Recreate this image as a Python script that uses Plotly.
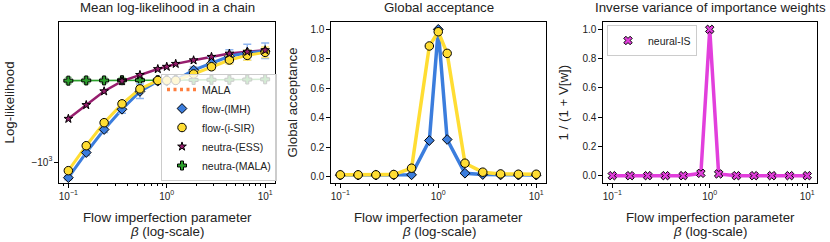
import numpy as np
import plotly.graph_objects as go

# ---------------- data ----------------
beta = [0.1, 0.152, 0.231, 0.351, 0.534, 0.811, 1.0, 1.233, 1.874, 2.848, 4.329, 6.579, 10.0]

mala_ll = -390
imh_ll = [-1198, -897, -688, -545, -444, -394, -394, -389, -347, -321, -296, -284, -279]
imh_err = [28, 31, 24, 26, 37, 14, 14, 14, 12, 22, 21, 26, 25]
isir_ll = [-1105, -829, -636, -512, -431, -391, -391, -391, -363, -334, -309, -293, -283]
isir_err = [25, 19, 15, 18, 15, 9, 9, 9, 13, 12, 15, 17, 17]
ess_ll = [-608, -519, -443, -394, -367, -343, -334, -323, -310, -298, -287, -281, -276]
ess_err = [8, 7, 6, 5, 5, 4, 4, 4, 4, 4, 4, 4, 4]
nmala_ll = [-392, -391, -391, -390, -390, -390, -390, -389, -389, -388, -388, -387, -386]
nmala_err = [14, 14, 13, 12, 10, 8, 8, 8, 7, 7, 6, 6, 6]

imh_acc = [0.01, 0.01, 0.01, 0.011, 0.012, 0.245, 1.0, 0.252, 0.023, 0.014, 0.011, 0.01, 0.01]
isir_acc = [0.012, 0.012, 0.012, 0.014, 0.057, 0.887, 0.984, 0.837, 0.091, 0.03, 0.018, 0.016, 0.016]
is_invvar = [0, 0, 0, 0, 0, 0.016, 1.0, 0.012, 0, 0, 0, 0, 0]

x_ticks = [0.1, 1.0, 10.0]
x_ticktext = ["10<sup>\u22121</sup>", "10<sup>0</sup>", "10<sup>1</sup>"]
titles = ["Mean log-likelihood in a chain", "Global acceptance", "Inverse variance of importance weights"]
ylabels = ["Log-likelihood", "Global acceptance", "1 / (1 + V[w])"]

# ---------------- style ----------------
W, H = 830, 242
FONT = "Liberation Sans, Arial, sans-serif"
TXT = "#222222"
BLUE, BLUE_E = "#3b7ddd", "#8fb5ef"
YEL, YEL_E = "#ffdd33", "#ffe77a"
PUR = "#961d6d"
GRN, GRN_E = "#2ca02c", "#93d493"
ORA = "#ff7f3f"
PINK = "#e23fdc"
GREY = "#8a8a8a"
FS = 13.3

def px_x(p):
    return p / W

def px_y(p):
    return (H - p) / H

xdom = [[px_x(59), px_x(275)], [px_x(331), px_x(546)], [px_x(603), px_x(817)]]
ydom = [px_y(183), px_y(22)]

fig = go.Figure()
neg = lambda a: [-v for v in a]

# ---- panel 1 ----
mk_line = dict(color="black", width=1)
fig.add_trace(go.Scatter(x=[None], y=[None], mode="lines", name="MALA",
                         line=dict(color=ORA, width=3.5, dash="3px,3.5px"),
                         legendrank=1, xaxis="x", yaxis="y"))
for yv, col, w in [(nmala_ll, GRN, 1.6), (ess_ll, PUR, 2.5), (imh_ll, BLUE, 3), (isir_ll, YEL, 3)]:
    fig.add_trace(go.Scatter(x=beta, y=neg(yv), mode="lines", line=dict(color=col, width=w),
                             showlegend=False, hoverinfo="skip", xaxis="x", yaxis="y"))
fig.add_trace(go.Scatter(x=beta, y=neg(nmala_ll), mode="markers", name="neutra-(MALA)",
                         marker=dict(symbol="cross", size=7.5, color=GRN, line=mk_line),
                         error_y=dict(type="data", array=nmala_err, color=GRN_E, thickness=1.5, width=3.5),
                         legendrank=5, xaxis="x", yaxis="y"))
fig.add_trace(go.Scatter(x=beta, y=neg(imh_ll), mode="markers", name="flow-(IMH)",
                         marker=dict(symbol="diamond", size=7.5, color=BLUE, line=mk_line),
                         error_y=dict(type="data", array=imh_err, color=BLUE_E, thickness=1.5, width=4),
                         legendrank=2, xaxis="x", yaxis="y"))
fig.add_trace(go.Scatter(x=beta, y=neg(isir_ll), mode="markers", name="flow-(i-SIR)",
                         marker=dict(symbol="circle", size=8.5, color=YEL, line=mk_line),
                         error_y=dict(type="data", array=isir_err, color=YEL_E, thickness=1.5, width=4),
                         legendrank=3, xaxis="x", yaxis="y"))
fig.add_trace(go.Scatter(x=beta, y=neg(ess_ll), mode="markers", name="neutra-(ESS)",
                         marker=dict(symbol="star", size=6.5, color=PUR, line=mk_line),
                         error_y=dict(type="data", array=ess_err, color=PUR, thickness=1, width=2),
                         legendrank=4, xaxis="x", yaxis="y"))

# ---- panel 2 ----
fig.add_trace(go.Scatter(x=beta, y=imh_acc, mode="lines", line=dict(color=BLUE, width=3.5),
                         showlegend=False, xaxis="x2", yaxis="y2"))
fig.add_trace(go.Scatter(x=beta, y=isir_acc, mode="lines", line=dict(color=YEL, width=3.5),
                         showlegend=False, xaxis="x2", yaxis="y2"))
fig.add_trace(go.Scatter(x=beta, y=imh_acc, mode="markers", showlegend=False,
                         marker=dict(symbol="diamond", size=7.5, color=BLUE, line=mk_line),
                         xaxis="x2", yaxis="y2"))
fig.add_trace(go.Scatter(x=beta, y=isir_acc, mode="markers", showlegend=False,
                         marker=dict(symbol="circle", size=8.5, color=YEL, line=mk_line),
                         xaxis="x2", yaxis="y2"))

# ---- panel 3 ----
fig.add_trace(go.Scatter(x=beta, y=is_invvar, mode="lines", line=dict(color=PINK, width=3.5),
                         showlegend=False, xaxis="x3", yaxis="y3"))
fig.add_trace(go.Scatter(x=beta, y=is_invvar, mode="markers", name="neural-IS", legend="legend2",
                         marker=dict(symbol="x", size=7.5, color=PINK, line=mk_line),
                         xaxis="x3", yaxis="y3"))

# reference lines
fig.add_shape(type="line", xref="x domain", x0=0, x1=1, yref="y",
              y0=np.log10(-mala_ll), y1=np.log10(-mala_ll),
              line=dict(color=ORA, width=3.5, dash="3px,3.5px"), layer="below")
for i, xa in enumerate(["x", "x2", "x3"]):
    fig.add_shape(type="line", xref=xa, x0=np.log10(1.0), x1=np.log10(1.0),
                  yref=("y" if i == 0 else "y%d" % (i + 1)) + " domain", y0=0, y1=1,
                  line=dict(color=GREY, width=3, dash="8px,3.5px"), layer="below")

# ---------------- axes ----------------
minor_vals = [k * 10.0 ** e for e in (-2, -1, 0, 1) for k in range(2, 10)]
axis_common = dict(showline=True, mirror=True, linecolor="black", linewidth=1.3,
                   showgrid=False, zeroline=False, ticks="outside", ticklen=3.5,
                   tickwidth=1, tickcolor="black",
                   tickfont=dict(family=FONT, size=10, color=TXT))
layout = dict(width=W, height=H, margin=dict(l=0, r=0, t=0, b=0),
              paper_bgcolor="white", plot_bgcolor="white", showlegend=True)
for i in range(3):
    sfx = "" if i == 0 else str(i + 1)
    layout["xaxis" + sfx] = dict(axis_common, type="log", domain=xdom[i], range=[-1.095, 1.1],
                                 tickmode="array", tickvals=x_ticks, ticktext=x_ticktext,
                                 anchor="y" + sfx,
                                 minor=dict(tickmode="array", tickvals=minor_vals, ticks="outside",
                                            ticklen=2, tickcolor="black", tickwidth=0.8))
layout["yaxis"] = dict(axis_common, type="log", domain=ydom, range=[3.105, 2.30],
                       tickmode="array", tickvals=[1000], ticktext=["\u221210<sup>3</sup>"], anchor="x")
layout["yaxis2"] = dict(axis_common, domain=ydom, range=[-0.0435, 1.05], tickmode="array",
                        tickvals=[0, 0.2, 0.4, 0.6, 0.8, 1.0], tickformat=".1f", anchor="x2")
layout["yaxis3"] = dict(axis_common, domain=ydom, range=[-0.05, 1.05], tickmode="array",
                        tickvals=[0, 0.2, 0.4, 0.6, 0.8, 1.0], tickformat=".1f", anchor="x3")

legend_common = dict(bgcolor="rgba(255,255,255,0.8)", bordercolor="#cccccc", borderwidth=1,
                     font=dict(family=FONT, size=10.5, color=TXT), xanchor="left",
                     tracegroupgap=0, itemsizing="trace")
layout["legend"] = dict(legend_common, x=px_x(161), y=px_y(181), yanchor="bottom")
layout["legend2"] = dict(legend_common, x=px_x(607), y=px_y(25), yanchor="top")
fig.update_layout(**layout)

# ---------------- text ----------------
centers = [(59 + 275) / 2, (331 + 546) / 2, (603 + 817) / 2]
ylab_x = [9, 292, 563]
for i in range(3):
    fig.add_annotation(text=titles[i], xref="paper", yref="paper", x=px_x(centers[i]), y=px_y(7.5),
                       showarrow=False, xanchor="center", yanchor="middle",
                       font=dict(family=FONT, size=FS, color=TXT))
    fig.add_annotation(text="Flow imperfection parameter", xref="paper", yref="paper",
                       x=px_x(centers[i]), y=px_y(217), showarrow=False, xanchor="center",
                       yanchor="middle", font=dict(family=FONT, size=FS, color=TXT))
    fig.add_annotation(text="<i>\u03b2</i> (log-scale)", xref="paper", yref="paper",
                       x=px_x(centers[i]), y=px_y(231.5), showarrow=False, xanchor="center",
                       yanchor="middle", font=dict(family=FONT, size=FS, color=TXT))
    fig.add_annotation(text=ylabels[i], xref="paper", yref="paper", x=px_x(ylab_x[i]),
                       y=px_y(102.5), showarrow=False, textangle=-90, xanchor="center",
                       yanchor="middle", font=dict(family=FONT, size=FS, color=TXT))

fig.write_html("out.html", config={"displayModeBar": False},
               post_script="document.body.style.margin='0';")
